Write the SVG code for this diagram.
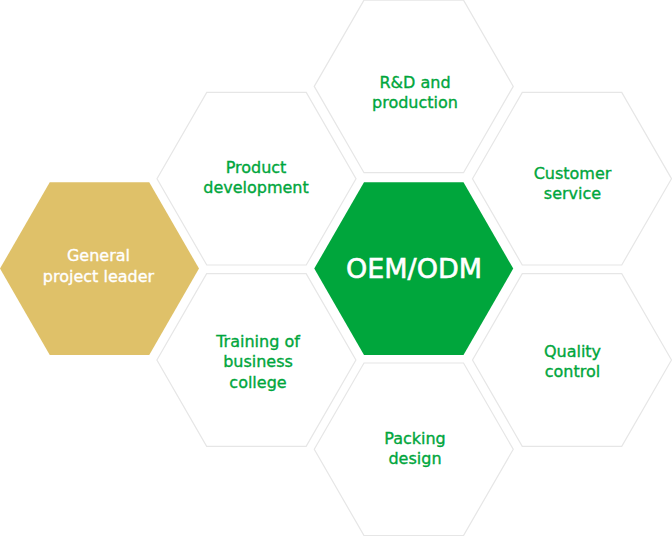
<svg xmlns="http://www.w3.org/2000/svg" xmlns:xlink="http://www.w3.org/1999/xlink" width="672" height="536" viewBox="0 0 672 536">
<style>
.hx{fill:#ffffff;stroke:#e6e6e6;stroke-width:1.2}
.gold{fill:#dfc169}
.green{fill:#00a63c}
.t{font-family:"DejaVu Sans","Liberation Sans",sans-serif;font-size:16px;fill:#00a63c;stroke:#00a63c;stroke-width:0.35;text-anchor:middle}
.tw{fill:#ffffff;stroke:#ffffff}
.big{font-size:27px;stroke-width:0.6}
</style>
<defs>
<polygon id="hex" points="-99.5,0 -49.75,-86.3 49.75,-86.3 99.5,0 49.75,86.3 -49.75,86.3"/>
</defs>
<rect width="672" height="536" fill="#ffffff"/>
<g id="connectors"></g>
<g id="general">
<use xlink:href="#hex" href="#hex" class="gold" x="99.5" y="268.6"/>
<text class="t tw" x="98.5" y="261">General</text>
<text class="t tw" x="98.5" y="282">project leader</text>
</g>
<g id="oem">
<use xlink:href="#hex" href="#hex" class="green" x="413.75" y="268.6"/>
<text class="t tw big" x="414" y="277.5">OEM/ODM</text>
</g>
<g id="rd">
<use xlink:href="#hex" href="#hex" class="hx" x="413.75" y="86.4"/>
<text class="t" x="415" y="87.5">R&amp;D and</text>
<text class="t" x="415" y="107.5">production</text>
</g>
<g id="product">
<use xlink:href="#hex" href="#hex" class="hx" x="256.5" y="178.7"/>
<text class="t" x="256" y="173">Product</text>
<text class="t" x="256" y="193">development</text>
</g>
<g id="customer">
<use xlink:href="#hex" href="#hex" class="hx" x="572" y="178.7"/>
<text class="t" x="572.5" y="179">Customer</text>
<text class="t" x="572.5" y="199">service</text>
</g>
<g id="training">
<use xlink:href="#hex" href="#hex" class="hx" x="256.4" y="360"/>
<text class="t" x="258" y="347">Training of</text>
<text class="t" x="258" y="367">business</text>
<text class="t" x="258" y="387.5">college</text>
</g>
<g id="quality">
<use xlink:href="#hex" href="#hex" class="hx" x="572" y="360"/>
<text class="t" x="572.5" y="357">Quality</text>
<text class="t" x="572.5" y="377">control</text>
</g>
<g id="packing">
<use xlink:href="#hex" href="#hex" class="hx" x="413.75" y="449.3"/>
<text class="t" x="415" y="443.5">Packing</text>
<text class="t" x="415" y="463.5">design</text>
</g>
</svg>
